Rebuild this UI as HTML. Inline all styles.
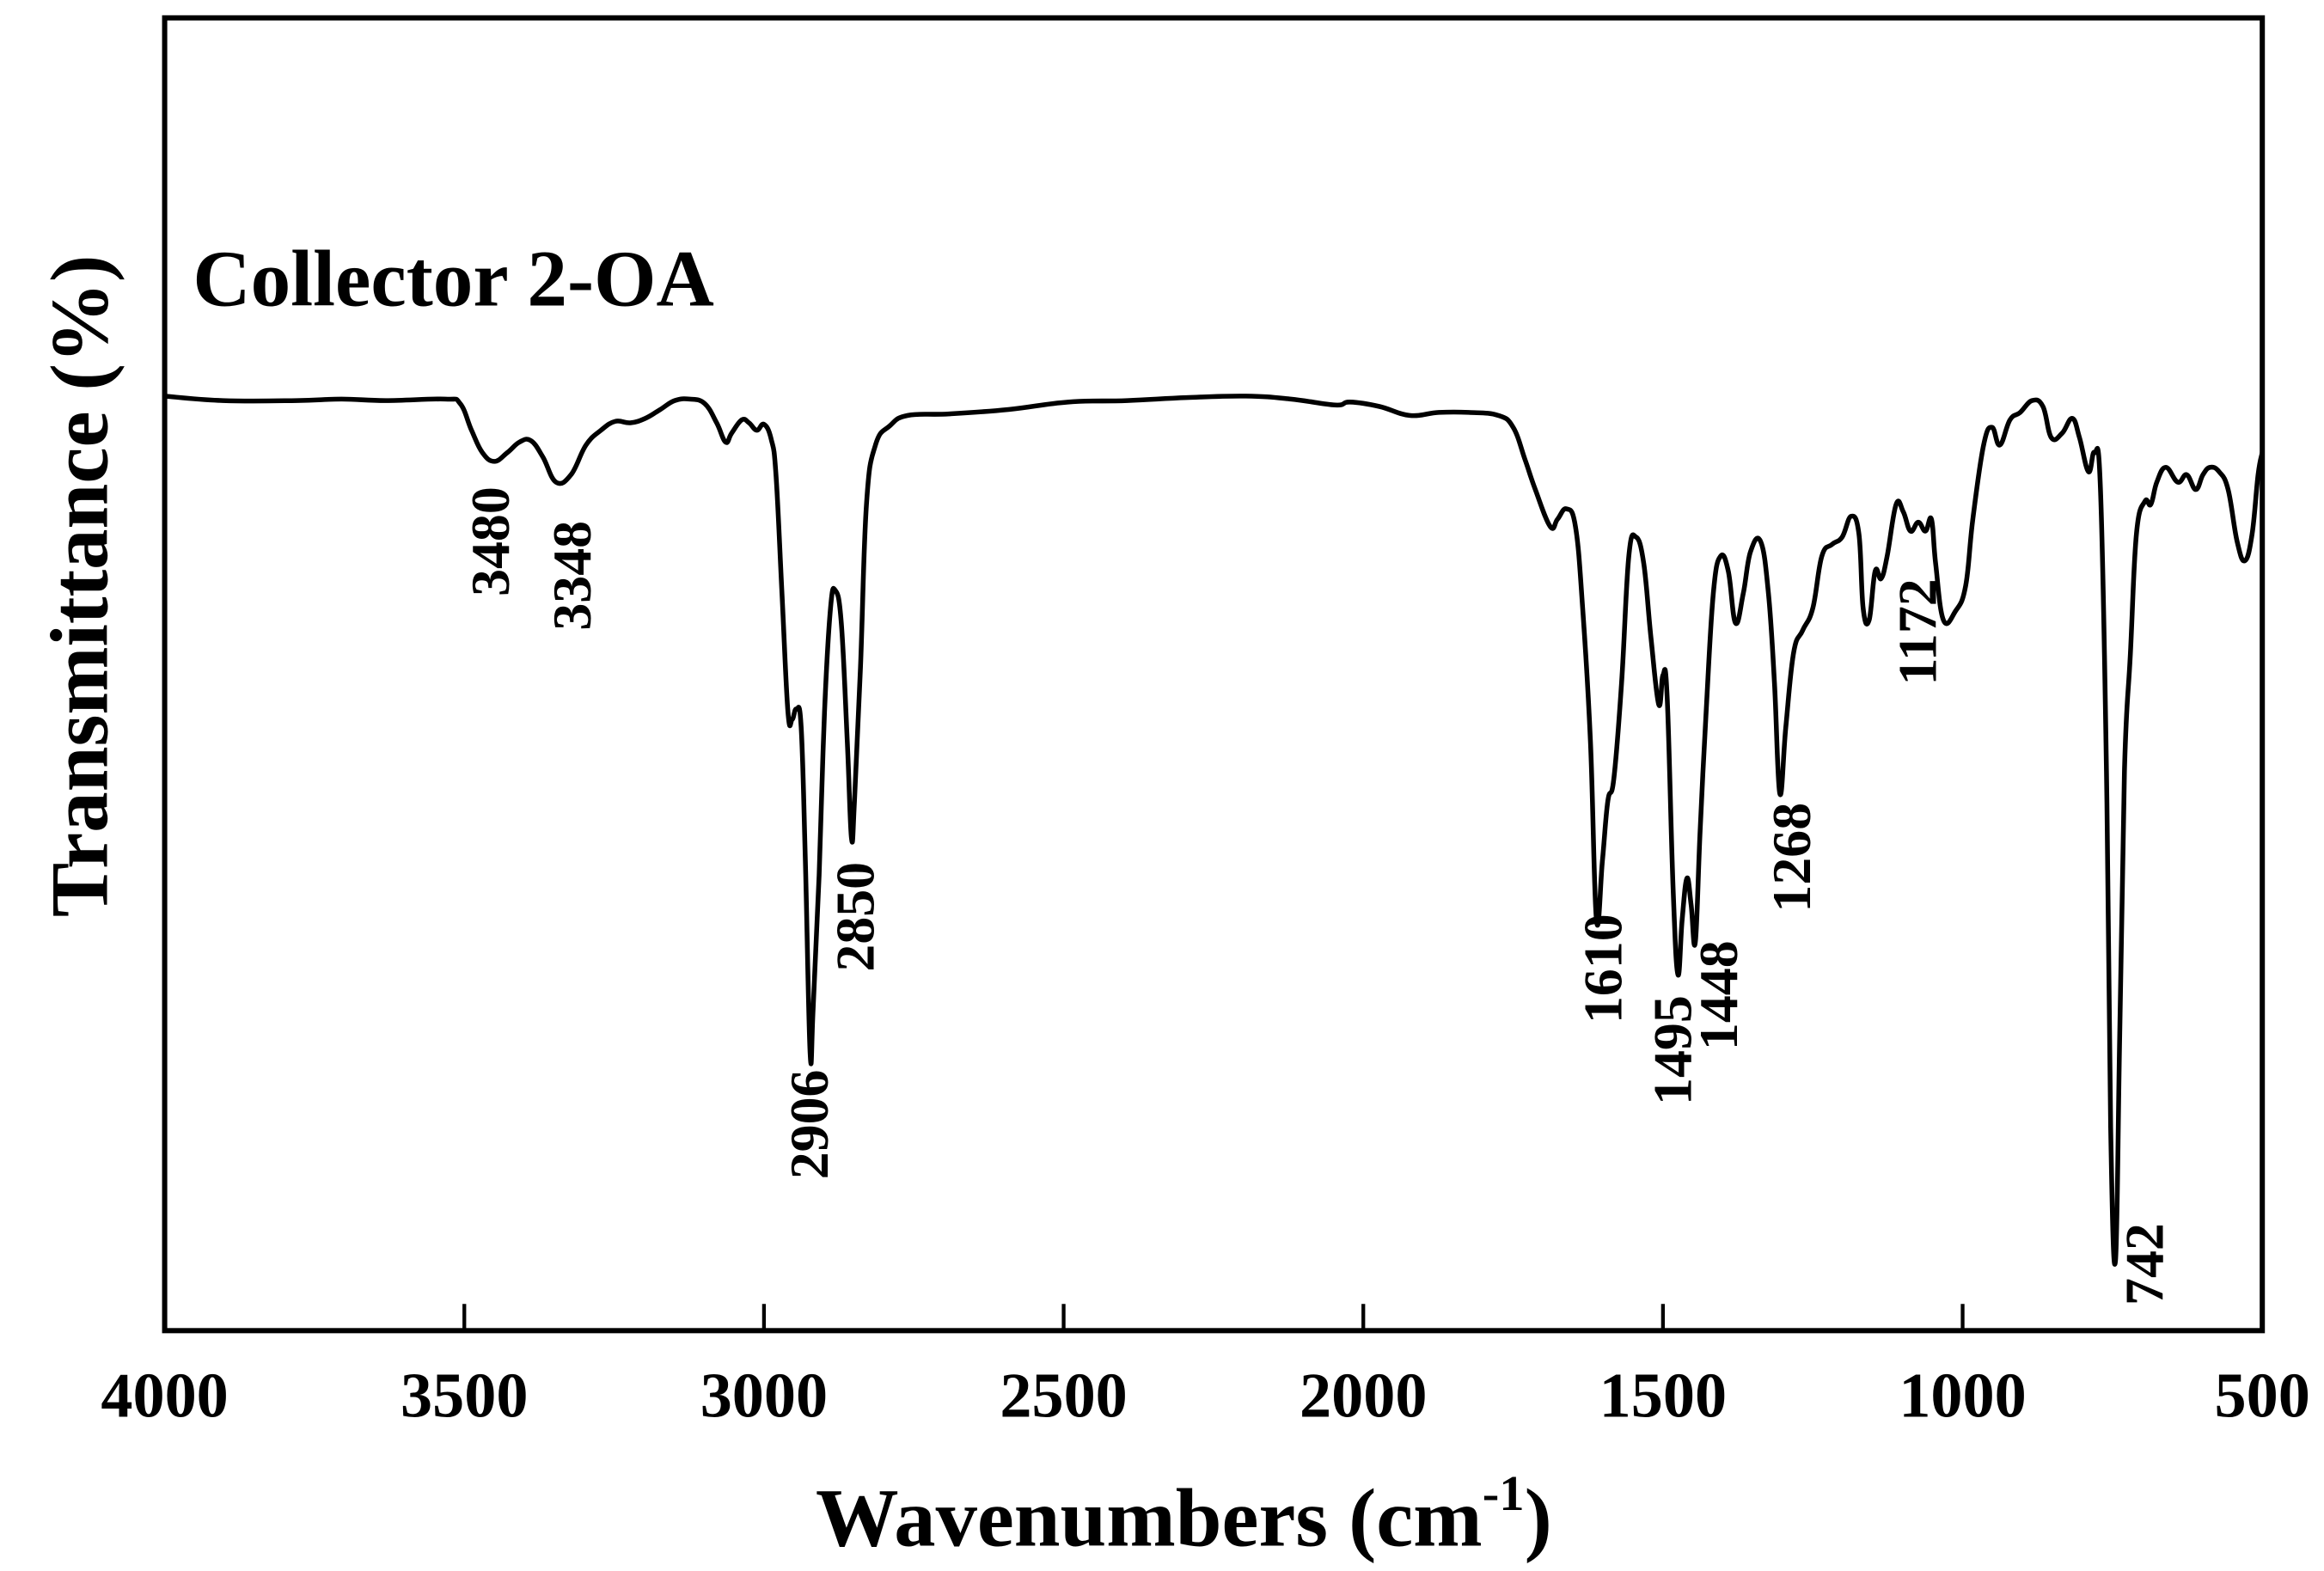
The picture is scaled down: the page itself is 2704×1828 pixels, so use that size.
<!DOCTYPE html>
<html><head><meta charset="utf-8"><style>html,body{margin:0;padding:0;background:#fff}svg{display:block}</style></head>
<body>
<svg id="chart" width="2704" height="1828" viewBox="0 0 1566.6 1059" xmlns="http://www.w3.org/2000/svg" font-family="'Liberation Serif', serif" font-weight="bold">
<rect x="0" y="0" width="1566.6" height="1059" fill="#fff"/>
<g id="ticks"></g>
<path id="spectrum" fill="none" stroke="#000" stroke-width="3.2" stroke-linejoin="round" stroke-linecap="round"/>
<rect x="111" y="12" width="1414" height="885" fill="none" stroke="#000" stroke-width="3.5"/>
<g id="peaklabels"></g>
<text x="130" y="206" font-size="54">Collector 2-OA</text>
<text x="798" y="1042" font-size="56" text-anchor="middle">Wavenumbers (cm<tspan font-size="34" dy="-24">-1</tspan><tspan dy="24">)</tspan></text>
<text transform="translate(72,395) rotate(-90)" font-size="55" text-anchor="middle">Transmittance (%)</text>
</svg>
<script>
const wavenumbers=[4000,3903,3780,3705,3631,3532,3507,3488,3470,3450,3428,3408,3389,3369,3347,3322,3297,3272,3248,3223,3198,3173,3149,3124,3099,3079,3064,3054,3037,3025,3012,3000,2988,2980,2970,2960,2953,2946,2938,2931,2923,2918,2908,2899,2889,2881,2871,2861,2854,2849,2839,2829,2814,2790,2760,2691,2592,2493,2394,2295,2196,2121,2047,2022,1973,1923,1874,1824,1775,1750,1730,1713,1688,1676,1661,1646,1634,1621,1611,1601,1592,1582,1569,1557,1545,1532,1520,1507,1500,1493,1483,1475,1468,1460,1453,1446,1438,1428,1416,1404,1391,1379,1366,1354,1337,1324,1314,1305,1295,1282,1267,1250,1235,1218,1201,1186,1173,1166,1156,1146,1136,1126,1111,1099,1087,1074,1062,1052,1045,1032,1012,995,983,965,951,938,921,904,884,866,852,834,817,805,790,780,770,760,753,745,738,730,720,710,696,686,676,661,641,626,611,599,587,572,557,542,529,517,507,500];
const transmittance=[630,627,627,628,627,628,625,607,592,586,592,599,600,589,572,577,597,607,613,612,615,621,627,628,625,612,599,605,614,612,607,611,601,577,497,417,412,419,407,317,187,217,307,417,487,499,477,397,332,357,447,557,597,610,617,618,621,626,627,629,630,628,624,626,623,617,619,619,617,609,587,567,542,547,554,542,487,397,277,317,357,372,437,522,535,517,467,422,442,427,297,240,277,305,287,262,337,417,497,522,512,477,497,525,532,497,437,362,407,457,472,487,522,530,535,549,537,487,479,512,507,522,557,552,539,545,539,547,517,479,485,502,547,597,609,597,614,619,627,623,602,605,615,602,579,592,567,377,137,47,197,377,457,537,559,557,572,582,572,577,567,577,582,579,567,532,519,537,577,592];
const xTicks=[4000,3500,3000,2500,2000,1500,1000,500];
const peakLabels=["3480","3348","2906","2850","1610","1495","1448","1268","1172","742"];
const peakLabelX=[330,385,545,576,1080,1127,1158,1207,1292,1445];
const peakLabelBottom=[402,425,795,655,690,745,708,615,462,880];
const NS="http://www.w3.org/2000/svg";
function xs(w){return 111+(4000-w)/3500*1414;}
function ys(t){return 897-t;}
const n=Math.min(wavenumbers.length,transmittance.length);
const P=[];for(let i=0;i<n;i++)P.push([xs(wavenumbers[i]),ys(transmittance[i])]);
let d="M"+P[0][0].toFixed(2)+","+P[0][1].toFixed(2);
for(let i=0;i<n-1;i++){
  const p0=P[Math.max(i-1,0)],p1=P[i],p2=P[i+1],p3=P[Math.min(i+2,n-1)];
  const t=0.2;
  const c1=[p1[0]+(p2[0]-p0[0])*t,p1[1]+(p2[1]-p0[1])*t];
  const c2=[p2[0]-(p3[0]-p1[0])*t,p2[1]-(p3[1]-p1[1])*t];
  d+="C"+c1[0].toFixed(2)+","+c1[1].toFixed(2)+" "+c2[0].toFixed(2)+","+c2[1].toFixed(2)+" "+p2[0].toFixed(2)+","+p2[1].toFixed(2);
}
document.getElementById("spectrum").setAttribute("d",d);
const tg=document.getElementById("ticks");
xTicks.forEach((v,i)=>{
  if(i>0&&i<xTicks.length-1){
    const l=document.createElementNS(NS,"line");
    
    
    l.setAttribute("x1",xs(v));l.setAttribute("x2",xs(v));l.setAttribute("y1",897);l.setAttribute("y2",879);
    l.setAttribute("stroke","#000");l.setAttribute("stroke-width","2.5");tg.appendChild(l);
  }
  const t=document.createElementNS(NS,"text");
  
  
  t.setAttribute("x",xs(v));t.setAttribute("y",955);t.setAttribute("text-anchor","middle");t.setAttribute("font-size","43");
  t.textContent=v;tg.appendChild(t);
});
const pg=document.getElementById("peaklabels");
peakLabels.forEach((s,i)=>{
  const t=document.createElementNS(NS,"text");
  
  
  const bx=peakLabelX[i]+13, by=peakLabelBottom[i];
  t.setAttribute("transform","translate("+bx+","+by+") rotate(-90)");
  t.setAttribute("font-size","37");
  t.textContent=s;pg.appendChild(t);
});
</script>
</body></html>
